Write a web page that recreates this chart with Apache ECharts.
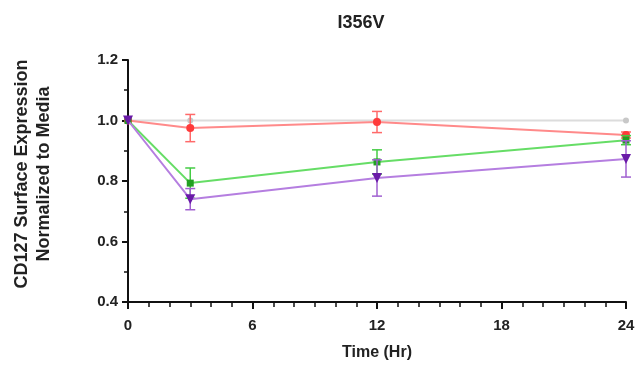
<!DOCTYPE html>
<html><head><meta charset="utf-8">
<script src="https://cdn.jsdelivr.net/npm/echarts@6/dist/echarts.min.js"></script>
<style>html,body{margin:0;padding:0;background:#fff}#c{width:636px;height:368px}</style>
</head><body><div id="c"></div>
<script>
const times = [0, 3, 12, 24];
const mediaVals = [1.0, 1.0, 1.0, 1.0];
const redVals = [1.0, 0.975, 0.995, 0.952];
const redErr = [0, 0.045, 0.035, 0.01];
const greenVals = [1.0, 0.793, 0.863, 0.935];
const greenErr = [0, 0.05, 0.04, 0.015];
const purpleVals = [1.0, 0.74, 0.81, 0.873];
const purpleErr = [0, 0.035, 0.06, 0.06];
const xTicks = [0, 6, 12, 18, 24];
const yTicks = [0.4, 0.6, 0.8, 1.0, 1.2];

const chart = echarts.init(document.getElementById('c'));
function lineSeries(vals, lineColor, markColor, symbol, size, z) {
  return {type:'line', data: times.map((t,i)=>[t, vals[i]]), symbol, symbolSize:size,
    lineStyle:{color:lineColor, width:2}, itemStyle:{color:markColor}, z};
}
function errSeries(vals, errs, color, z) {
  return {type:'custom', z,
    data: times.map((t,i)=>[t, vals[i]-errs[i], vals[i]+errs[i]]).filter(d=>d[2]-d[1]>0.001),
    renderItem(params, api){
      const lo = api.coord([api.value(0), api.value(1)]);
      const hi = api.coord([api.value(0), api.value(2)]);
      const w = 5;
      const st = {stroke: color, lineWidth: 1.5};
      return {type:'group', children:[
        {type:'line', shape:{x1:lo[0],y1:lo[1],x2:hi[0],y2:hi[1]}, style:st},
        {type:'line', shape:{x1:lo[0]-w,y1:lo[1],x2:lo[0]+w,y2:lo[1]}, style:st},
        {type:'line', shape:{x1:hi[0]-w,y1:hi[1],x2:hi[0]+w,y2:hi[1]}, style:st}
      ]};
    }};
}
const axisTxt = {color:'#222', fontFamily:'Liberation Sans', fontWeight:'bold', fontSize:15};
chart.setOption({
  animation:false,
  title:{text:'I356V', left:356, top:9, textAlign:'center',
    textStyle:{fontFamily:'Liberation Sans', fontWeight:'bold', fontSize:18, color:'#222'}},
  grid:{left:128, right:10, top:60, bottom:66, containLabel:false, outerBoundsMode:'none'},
  xAxis:{type:'value', min:0, max:24, interval:6,
    name:'Time (Hr)', nameLocation:'middle', nameGap:43,
    nameTextStyle:Object.assign({}, axisTxt, {fontSize:16}),
    axisLine:{lineStyle:{color:'#111', width:2}},
    axisTick:{length:7, lineStyle:{color:'#111', width:2}},
    minorTick:{show:true, splitNumber:6, length:5, lineStyle:{color:'#111', width:1.5}},
    splitLine:{show:false},
    axisLabel:Object.assign({margin:16, formatter:v=>xTicks.includes(v)?String(v):''}, axisTxt)},
  yAxis:{type:'value', min:0.4, max:1.2, interval:0.2,
    name:'CD127 Surface Expression\nNormalized to Media', nameLocation:'middle', nameGap:73,
    nameTextStyle:Object.assign({}, axisTxt, {fontSize:18, lineHeight:22, padding:[0,0,0,14]}),
    axisLine:{show:true, lineStyle:{color:'#111', width:2}},
    axisTick:{show:true, length:6, lineStyle:{color:'#111', width:2}},
    minorTick:{show:true, splitNumber:2, length:4, lineStyle:{color:'#111', width:1.5}},
    splitLine:{show:false},
    axisLabel:Object.assign({margin:10, formatter:v=>yTicks.some(t=>Math.abs(t-v)<1e-6)?v.toFixed(1):''}, axisTxt)},
  series:[
    lineSeries(mediaVals, '#dcdcdc', '#c8c8c8', 'circle', 6, 1),
    errSeries(redVals, redErr, '#ff6a6a', 2),
    lineSeries(redVals, '#ff8a8a', '#ff3a3a', 'circle', 8, 3),
    errSeries(greenVals, greenErr, '#44cc44', 4),
    lineSeries(greenVals, '#66dd66', '#22a022', 'rect', 7, 5),
    errSeries(purpleVals, purpleErr, '#a060d0', 6),
    lineSeries(purpleVals, '#b57ee0', '#6a1aa8', 'path://M0,0 L10,0 L5,9 Z', 10, 7)
  ]
});
</script></body></html>
